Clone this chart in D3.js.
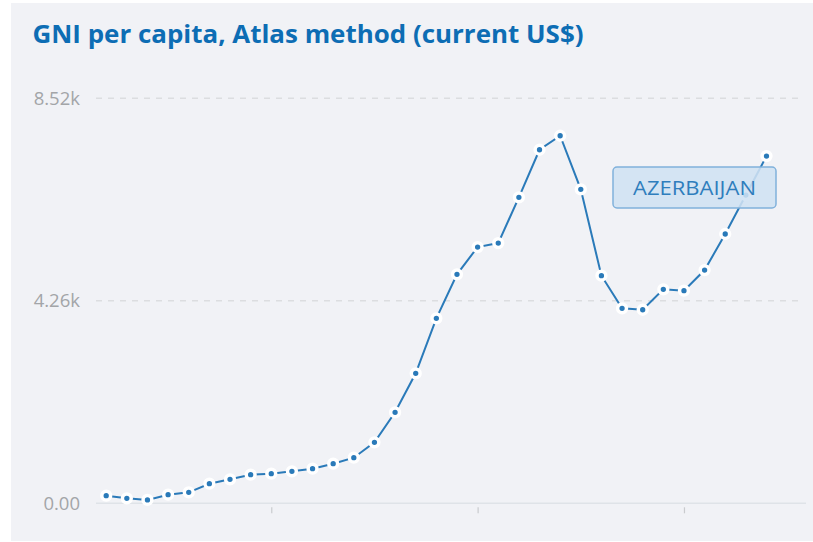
<!DOCTYPE html>
<html>
<head>
<meta charset="utf-8">
<script src="https://cdn.jsdelivr.net/npm/d3@7"></script>
<style>
  html, body { margin: 0; padding: 0; background: #ffffff; }
  svg { display: block; }
</style>
</head>
<body>
<div id="chart"></div>
<script>
// ---- Data ----
const title = "GNI per capita, Atlas method (current US$)";
const seriesName = "AZERBAIJAN";
const years = [1992,1993,1994,1995,1996,1997,1998,1999,2000,2001,2002,2003,2004,2005,2006,2007,2008,2009,2010,2011,2012,2013,2014,2015,2016,2017,2018,2019,2020,2021,2022,2023,2024];
const values = [160,105,70,181,231,412,505,602,623,673,728,833,959,1283,1914,2735,3891,4817,5391,5475,6437,7438,7732,6605,4788,4102,4072,4501,4472,4907,5665,6485,7305];
const yTickValues = [0, 4260, 8520];
const yTickLabels = ["0.00", "4.26k", "8.52k"];
const xTickValues = [2000, 2010, 2020];

// ---- Layout ----
const W = 813, H = 542;
const svg = d3.select("#chart").append("svg").attr("width", W).attr("height", H);

svg.append("rect").attr("x", 11).attr("y", 3).attr("width", W - 11).attr("height", H - 4)
  .attr("fill", "#f1f2f6");

svg.append("text")
  .attr("x", 32.5).attr("y", 43.3)
  .attr("font-family", "'Open Sans', sans-serif")
  .attr("font-weight", 700)
  .attr("font-size", 25.5)
  .attr("fill", "#0d6db4")
  .attr("textLength", 551)
  .attr("lengthAdjust", "spacingAndGlyphs")
  .text(title);

const x = d3.scaleLinear().domain([1992, 2024]).range([106.2, 766.5]);
const y = d3.scaleLinear().domain([0, 8520]).range([503.3, 98.3]);

// Gridlines (dashed)
const gridG = svg.append("g");
gridG.selectAll("line.grid").data(yTickValues.filter(v => v > 0)).join("line")
  .attr("class", "grid")
  .attr("x1", 96).attr("x2", 802)
  .attr("y1", d => y(d)).attr("y2", d => y(d))
  .attr("stroke", "#dcdde0").attr("stroke-width", 1.5)
  .attr("stroke-dasharray", "6,6");

// baseline
svg.append("line")
  .attr("x1", 96).attr("x2", 806)
  .attr("y1", y(0)).attr("y2", y(0))
  .attr("stroke", "#dfe3e8").attr("stroke-width", 1.5);

// Y axis labels
const yAxis = d3.axisLeft(y).tickValues(yTickValues)
  .tickFormat((d, i) => yTickLabels[i]).tickSize(0).tickPadding(0);
const yG = svg.append("g").attr("transform", "translate(80,0)").call(yAxis);
yG.select(".domain").remove();
yG.selectAll("text")
  .attr("font-family", "'Open Sans', sans-serif")
  .attr("font-size", 18.5)
  .attr("fill", "#a3a5a8");

// X axis ticks (no labels)
const xAxis = d3.axisBottom(x).tickValues(xTickValues).tickFormat("").tickSize(6);
const xG = svg.append("g").attr("transform", `translate(0,${y(0) + 4})`).call(xAxis);
xG.select(".domain").remove();
xG.selectAll(".tick line").attr("stroke", "#c9cbce").attr("stroke-width", 1.2);

// Line
const data = years.map((yr, i) => ({ yr, v: values[i] }));
const line = d3.line().x(d => x(d.yr)).y(d => y(d.v));
svg.append("path").datum(data)
  .attr("d", line)
  .attr("fill", "none")
  .attr("stroke", "#2a7ab9")
  .attr("stroke-width", 2);

svg.append("g").selectAll("circle").data(data).join("circle")
  .attr("cx", d => x(d.yr)).attr("cy", d => y(d.v))
  .attr("r", 4.4)
  .attr("fill", "#2a7ab9")
  .attr("stroke", "#ffffff")
  .attr("stroke-width", 3.5);

// Series label
const lg = svg.append("g");
lg.append("rect")
  .attr("x", 613).attr("y", 167).attr("width", 163).attr("height", 41)
  .attr("rx", 4)
  .attr("fill", "#cfe1f2").attr("fill-opacity", 0.88)
  .attr("stroke", "#80b1db").attr("stroke-width", 1.5);
lg.append("text")
  .attr("x", 694.5).attr("y", 194.5)
  .attr("text-anchor", "middle")
  .attr("font-family", "'Open Sans', sans-serif")
  .attr("font-size", 20.5)
  .attr("fill", "#2f7ebd")
  .attr("textLength", 123)
  .attr("lengthAdjust", "spacingAndGlyphs")
  .text(seriesName);
</script>
</body>
</html>
